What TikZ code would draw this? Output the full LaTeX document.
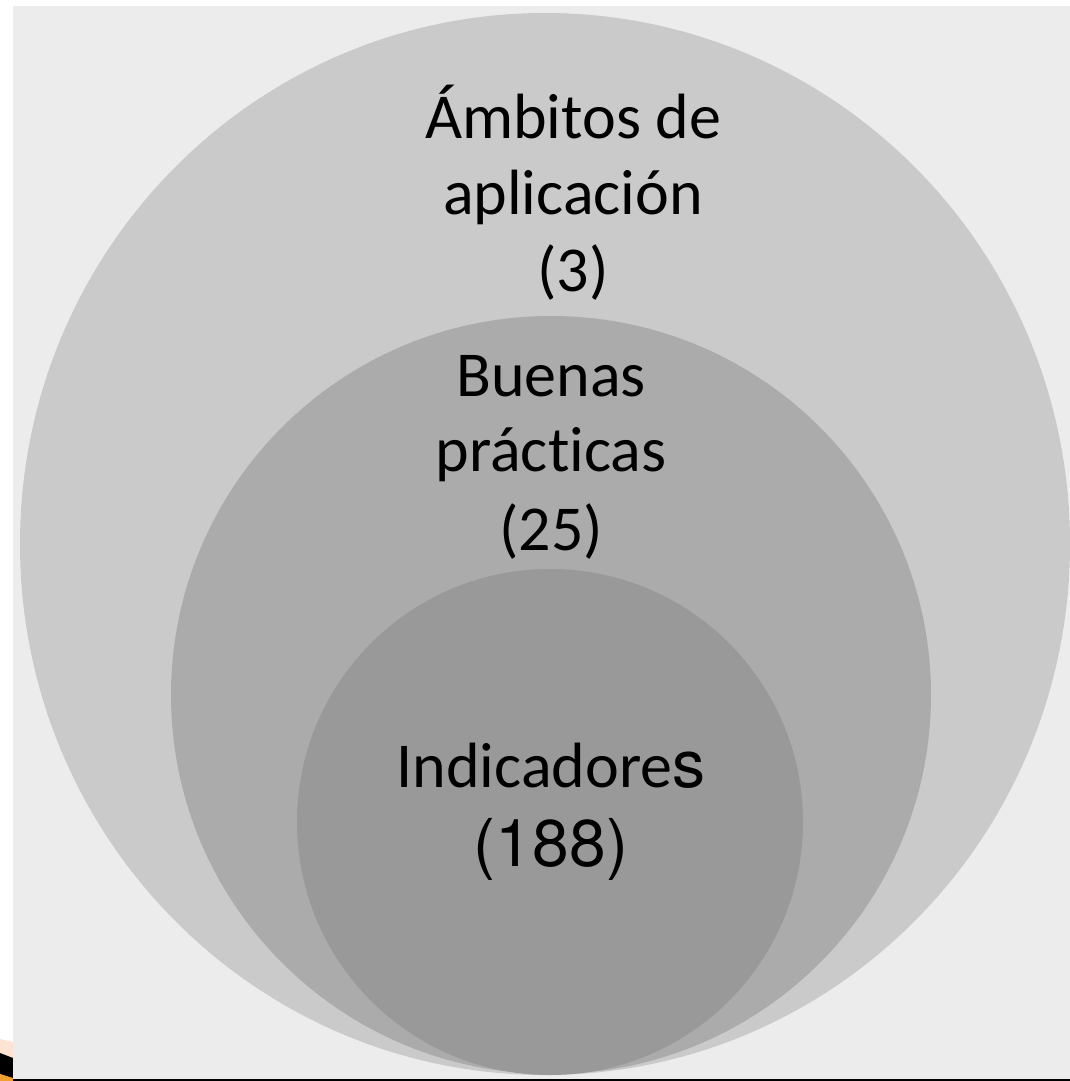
\documentclass[tikz,border=0pt]{standalone}
\usepackage{fontspec}
\setmainfont[Ligatures=NoCommon,Numbers=Lining]{Carlito}
\newfontface\heroslarge{TeX Gyre Heros}
\usetikzlibrary{shapes.geometric}
\tikzset{
  x=1pt,y=-1pt,
  lab/.style={font=\fontsize{64}{76}\selectfont,text=black,align=center,inner sep=0pt,anchor=base},
}
\definecolor{bgc}{HTML}{ECECEC}
\definecolor{outerc}{HTML}{CACACA}
\definecolor{midc}{HTML}{ABABAB}
\definecolor{innerc}{HTML}{999999}
\definecolor{peach}{HTML}{FDE3D2}
\definecolor{orangec}{HTML}{F0A030}
\begin{document}
\begin{tikzpicture}
\useasboundingbox (0,0) rectangle (1070,1081);
\fill[white] (0,0) rectangle (1070,1081);
\fill[peach] (0,1039) -- (13,1042) -- (13,1060) -- (0,1055) -- cycle;
\fill[black] (0,1053) -- (13,1058) -- (13,1079) -- (0,1074) -- cycle;
\fill[orangec] (0,1074) -- (13,1078) -- (13,1081) -- (0,1081) -- cycle;
\fill[bgc] (13,6) rectangle (1070,1079);
\fill[black] (13,1079) rectangle (1070,1081);
\fill[outerc] (545,544) ellipse [x radius=525,y radius=531];
\fill[midc] (551,695) ellipse [x radius=380,y radius=379];
\fill[innerc] (550,822) ellipse [x radius=253,y radius=253];
\node[lab] (a1) at (573,138) {Ámbitos de};
\node[lab] (a2) at (573,214) {aplicación};
\node[lab] (a3) at (573,291) {(3)};
\node[lab] (b1) at (551,396) {Buenas};
\node[lab] (b2) at (551,471) {prácticas};
\node[lab] (b3) at (551,550) {(25)};
\node[lab] (c1) at (551,787) {Indicadore{\fontsize{66}{76}\selectfont\heroslarge s}};
\node[lab] (c2) at (551,866) {\fontsize{66}{76}\selectfont\heroslarge (188)};
\end{tikzpicture}
\end{document}
